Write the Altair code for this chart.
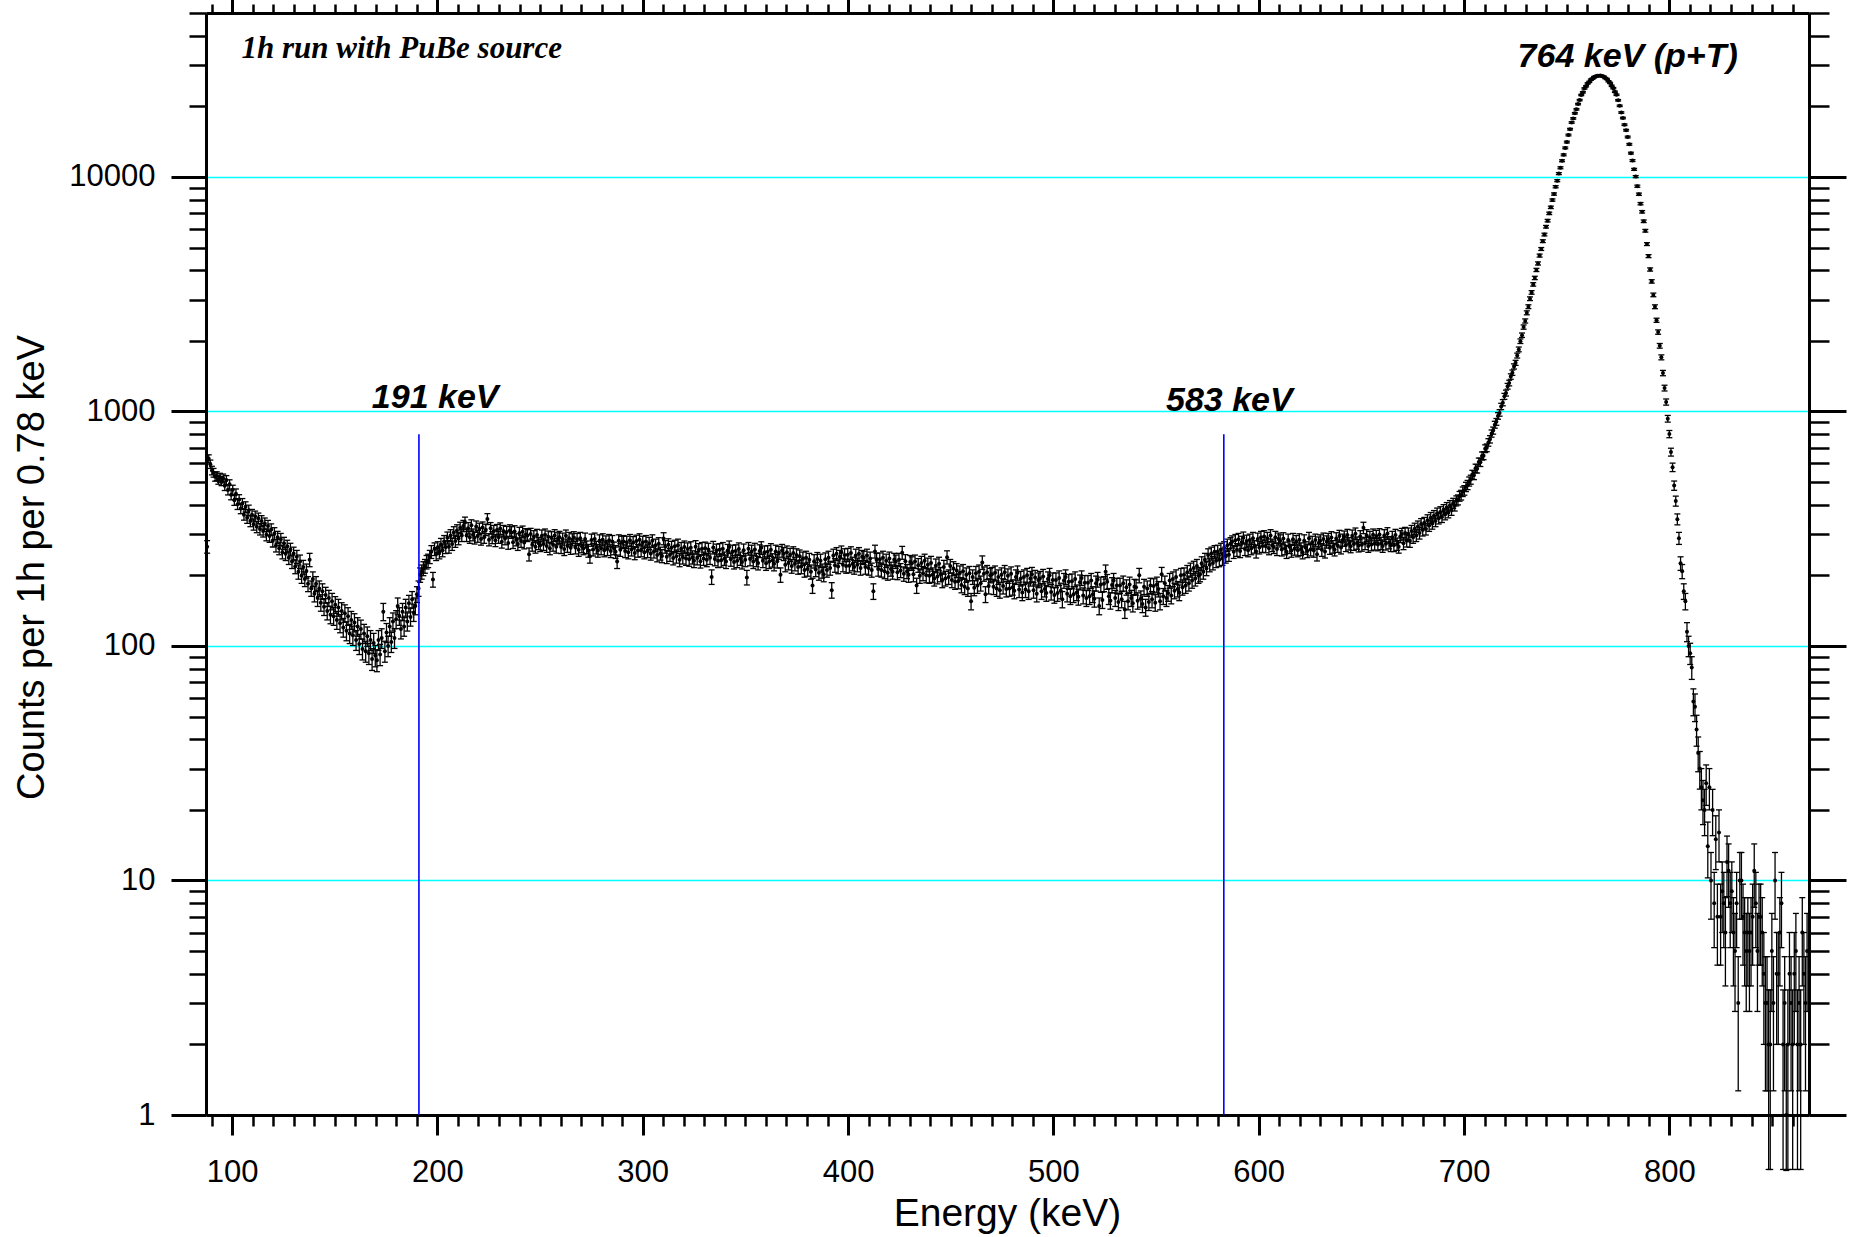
import altair as alt
import pandas as pd

# ---------------- data (counts per 0.78 keV channel) ----------------
E0 = 87.85      # centre of first channel (keV)
BIN = 0.78      # channel width (keV)

counts_rise = [
    265, 628, 596, 560, 548, 527, 530, 512, 522, 505,
    518, 482, 510, 462, 489, 441, 463, 418, 446, 402,
    421, 386, 405, 363, 392, 352, 379, 341, 363, 330,
    357, 322, 350, 315, 341, 309, 333, 298, 325, 294,
    314, 281, 302, 268, 291, 261, 285, 251, 274, 247,
    266, 238, 258, 229, 248, 218, 240, 207, 229, 199,
    217, 193, 209, 184, 233, 176, 193, 167, 184, 160,
    176, 153, 171, 147, 165, 141, 160, 136, 155, 134,
    150, 129, 146, 125, 141, 120, 138, 116, 134, 113,
    129, 111, 126, 106, 121, 102, 118, 97, 113, 95,
    110, 93, 106, 88, 103, 91, 87, 106, 92, 108,
    140, 95, 114, 100, 121, 104, 127, 108, 130, 148,
    134, 118, 140, 121, 146, 127, 152, 133, 158, 139,
    148, 166, 176, 201, 207, 214, 219, 228, 231, 240,
    252, 192, 259, 247, 262, 251, 271, 256, 279, 264,
    289, 265, 296, 272, 305, 280, 311, 287, 319, 296,
    325, 336, 296, 318, 291, 327, 298, 289, 323, 294,
    316, 286, 320, 291, 313, 348, 284, 318, 290, 309,
    282, 312, 291, 317, 278, 309, 287, 306, 275, 311,
    305, 277, 308, 284, 272, 303, 280, 307, 276, 299,
    296, 246, 300, 270, 293, 265, 297, 274, 269, 295,
    272, 298, 267, 292, 261, 290, 270, 296, 265, 287,
    291, 264, 286, 259, 295, 267, 288, 262, 284, 290,
    263, 285, 257, 288, 266, 261, 286, 264, 255, 241,
    283, 258, 286, 263, 255, 281, 261, 284, 256, 278,
    259, 282, 254, 279, 261, 252, 229, 281, 257, 277,
    279, 254, 277, 251, 282, 258, 276, 249, 280, 255,
    284, 256, 277, 251, 279, 254, 274, 248, 281, 253,
]

counts_plateau = [
    269, 244, 273, 248, 242, 287, 265, 240, 270, 245,
    263, 237, 266, 241, 269, 233, 260, 239, 264, 236,
    259, 234, 262, 239, 231, 265, 237, 257, 230, 260,
    236, 261, 233, 258, 238, 197, 263, 235, 256, 231,
    257, 232, 260, 236, 229, 255, 264, 234, 253, 228,
    254, 231, 259, 236, 228, 256, 233, 196, 260, 235,
    253, 229, 258, 233, 226, 254, 262, 231, 251, 225,
    252, 229, 257, 232, 224, 253, 230, 250, 201, 255,
    247, 222, 251, 226, 245, 219, 249, 224, 244, 217,
    241, 218, 236, 211, 238, 213, 233, 207, 181, 230,
    212, 235, 205, 231, 209, 202, 234, 211, 238, 215,
    173, 243, 221, 247, 218, 240, 251, 222, 244, 219,
    245, 220, 249, 224, 217, 243, 222, 247, 215, 240,
    238, 217, 243, 215, 236, 211, 171, 253, 233, 213,
    234, 211, 238, 208, 231, 205, 236, 213, 207, 233,
    229, 206, 233, 210, 250, 203, 230, 208, 201, 228,
    225, 202, 229, 181, 221, 199, 226, 204, 231, 200,
    222, 199, 226, 201, 194, 220, 198, 224, 202, 191,
    217, 194, 239, 197, 219, 191, 214, 188, 210, 189,
    205, 182, 208, 179, 201, 176, 204, 155, 197, 177,
    204, 181, 207, 185, 227, 203, 166, 206, 180, 200,
    202, 179, 205, 176, 197, 173, 201, 180, 206, 175,
    199, 176, 203, 178, 172, 197, 205, 174, 194, 169,
    197, 174, 200, 171, 194, 202, 173, 196, 167, 191,
    194, 171, 198, 175, 168, 193, 200, 170, 191, 165,
    191, 168, 195, 172, 158, 190, 197, 167, 188, 163,
    189, 166, 193, 169, 162, 187, 195, 164, 186, 160,
    186, 163, 190, 166, 159, 185, 192, 148, 183, 157,
    184, 207, 188, 163, 156, 182, 190, 160, 181, 154,
    181, 158, 185, 143, 178, 155, 183, 160, 152, 179,
    178, 156, 200, 159, 151, 179, 146, 176, 154, 181,
    158, 180, 153, 183, 175, 155, 202, 163, 185, 160,
    168, 190, 164, 193, 172, 197, 175, 169, 200, 178,
    201, 181, 206, 185, 211, 190, 215, 194, 219, 199,
    202, 225, 207, 233, 214, 244, 222, 248, 226, 252,
    231, 253, 233, 258, 236, 262, 241, 269, 245, 273,
    278, 252, 282, 257, 285, 254, 277, 289, 259, 280,
    256, 283, 261, 288, 265, 253, 286, 263, 291, 267,
    293, 266, 288, 261, 296, 269, 264, 291, 259, 286,
    281, 258, 287, 261, 252, 283, 264, 255, 285, 260,
    279, 256, 284, 259, 251, 281, 262, 254, 288, 258,
    277, 255, 283, 246, 275, 281, 257, 286, 253, 278,
    285, 262, 290, 265, 258, 287, 267, 294, 263, 283,
    292, 269, 297, 273, 266, 295, 272, 301, 275, 268,
    293, 270, 319, 274, 296, 267, 291, 271, 298, 273,
    294, 271, 299, 274, 267, 296, 273, 302, 276, 269,
    291, 269, 297, 272, 265, 293, 300, 274, 303, 281,
    301, 280, 309, 291, 316, 296, 323, 303, 331, 312,
    335, 315, 344, 326, 352, 333, 359, 341, 368, 350,
    373, 355, 381, 364, 389, 371, 397, 380, 406, 396,
    416, 420, 435, 440, 455, 461, 477, 486, 503, 512,
    538, 535, 572, 570, 608, 607, 646, 648, 694, 700,
]

counts_peak = [
    738, 761, 805, 829, 878, 903, 957, 986, 1051, 1090,
    1160, 1198, 1281, 1322, 1409, 1463, 1556, 1612, 1731, 1839,
    1993, 2114, 2290, 2431, 2634, 2797, 3025, 3218, 3481, 3709,
    4012, 4276, 4620, 4928, 5321, 5679, 6131, 6510, 6992, 7418,
    7968, 8455, 9080, 9641, 10330, 10940, 11720, 12420, 13300, 14080,
    15090, 15980, 17060, 17760, 18680, 19430, 20440, 21260, 22350, 22950,
    23850, 24360, 25050, 25420, 25990, 26240, 26650, 26770, 27010, 26990,
    27080, 26880, 26790, 26400, 26140, 25580, 25170, 24460, 23900, 23070,
    22400, 21220, 20100, 18820, 17830, 16690, 15820, 14800, 13770, 12630,
    11740, 10770, 10030, 9130, 8440, 7690, 7100, 6470, 5895, 5170,
    4595, 4030, 3585, 3140, 2795, 2448, 2180, 1905, 1701, 1458,
    1258, 1097, 931, 801, 671, 578, 483, 415, 347, 288,
    225, 208, 171, 155, 115, 100, 93, 81, 58, 55,
    44, 35, 30, 25, 22, 20, 26, 14, 25, 10,
]

counts_tail = [
    20, 8, 15, 7, 16, 7, 9, 8, 6, 12,
    11, 8, 9, 6, 5, 8, 3, 10, 10, 7,
    6, 5, 6, 5, 6, 7, 11, 8, 5, 7,
    7, 6, 4, 3, 3, 2, 2, 5, 3, 10,
    4, 4, 6, 8, 2, 3, 1, 2, 4, 3,
    2, 4, 5, 2, 3, 2, 6, 4, 3, 5,
]

x_major_ticks = [100, 200, 300, 400, 500, 600, 700, 800]
x_minor_ticks = list(range(90, 861, 10))
y_major_ticks = [1, 10, 100, 1000, 10000]
y_minor_ticks = [m * d for d in (1, 10, 100, 1000) for m in range(2, 10)] + [20000, 30000, 40000, 50000]

line_energies = [191, 583]
line_bottom = [1, 1]
line_top = [800, 800]

label_texts = ["191 keV", "583 keV", "764 keV (p+T)"]
label_energies = [198.9, 585.7, 779.7]
label_counts = [1030, 1000, 29500]

note_text = ["1h run with PuBe source"]
note_energy = [104.6]
note_count = [32000]

# ---------------- build tables ----------------
counts = counts_rise + counts_plateau + counts_peak + counts_tail
energy = [round(E0 + BIN * i, 3) for i in range(len(counts))]
df = pd.DataFrame({"E": energy, "N": counts})
df = df[df["N"] > 0]

lines_df = pd.DataFrame({"E": line_energies, "y1": line_bottom, "y2": line_top})
labels_df = pd.DataFrame({"E": label_energies, "y": label_counts, "t": label_texts})
note_df = pd.DataFrame({"E": note_energy, "y": note_count, "t": note_text})

FONT = "Liberation Sans"
xs = alt.Scale(domain=[87.3, 868], nice=False, zero=False)
ys = alt.Scale(type="log", domain=[1, 50000], nice=False)

common = dict(tickColor="black", domainColor="black", labelColor="black", titleColor="black",
              labelFlush=False, labelOverlap=False)

x_bottom_major = alt.Axis(orient="bottom", values=x_major_ticks, format="d", tickSize=20, tickWidth=3,
                          domainWidth=3, labelFont=FONT, labelFontSize=31, labelPadding=22,
                          title="Energy (keV)", titleFont=FONT, titleFontSize=39,
                          titleFontWeight="normal", titleX=801, titleY=110, titleAlign="center",
                          titleBaseline="alphabetic", grid=False, **common)
x_bottom_minor = alt.Axis(orient="bottom", values=x_minor_ticks, tickSize=11, tickWidth=2.5,
                          labels=False, domain=False, title="", grid=False, **common)
x_top_major = alt.Axis(orient="top", values=x_major_ticks, tickSize=14, tickWidth=3, domainWidth=3,
                       labels=False, title="", grid=False, **common)
x_top_minor = alt.Axis(orient="top", values=x_minor_ticks, tickSize=9, tickWidth=2.5,
                       labels=False, domain=False, title="", grid=False, **common)

y_left_major = alt.Axis(orient="left", values=y_major_ticks, format="d", tickSize=35, tickWidth=3,
                        domainWidth=3, labelFont=FONT, labelFontSize=31, labelPadding=16,
                        title="Counts per 1h per 0.78 keV", titleFont=FONT, titleFontSize=38,
                        titleFontWeight="normal", titleAngle=270, titleX=-163, titleY=554,
                        titleAlign="center", titleBaseline="alphabetic",
                        grid=True, gridColor="#00ffff", gridWidth=1.3, **common)
y_left_minor = alt.Axis(orient="left", values=y_minor_ticks, tickSize=17, tickWidth=2.5,
                        labels=False, domain=False, title="", grid=False, **common)
y_right_major = alt.Axis(orient="right", values=y_major_ticks, tickSize=37, tickWidth=3, domainWidth=3,
                         labels=False, title="", grid=False, **common)
y_right_minor = alt.Axis(orient="right", values=y_minor_ticks, tickSize=20, tickWidth=2.5,
                         labels=False, domain=False, title="", grid=False, **common)

base = alt.Chart(df).transform_calculate(
    hi="datum.N + sqrt(datum.N)",
    lo="max(datum.N - sqrt(datum.N), 0.58)",
)

bars = base.mark_rule(color="black", strokeWidth=1.3).encode(
    x=alt.X("E:Q", scale=xs, axis=x_bottom_major),
    y=alt.Y("lo:Q", scale=ys, axis=y_left_major),
    y2="hi:Q",
)
caps_hi = base.mark_tick(orient="horizontal", size=6, thickness=1.3, color="black", opacity=1).encode(
    x=alt.X("E:Q", scale=xs, axis=x_bottom_minor),
    y=alt.Y("hi:Q", scale=ys, axis=y_left_minor),
)
caps_lo = base.mark_tick(orient="horizontal", size=6, thickness=1.3, color="black", opacity=1).encode(
    x=alt.X("E:Q", scale=xs, axis=x_top_major),
    y=alt.Y("lo:Q", scale=ys, axis=y_right_major),
)
points = base.mark_circle(size=16, color="black", opacity=1).encode(
    x=alt.X("E:Q", scale=xs, axis=x_top_minor),
    y=alt.Y("N:Q", scale=ys, axis=y_right_minor),
)

vlines = alt.Chart(lines_df).mark_rule(color="#0000ff", strokeWidth=1.6).encode(
    x=alt.X("E:Q", scale=xs, axis=None),
    y=alt.Y("y1:Q", scale=ys, axis=None),
    y2="y2:Q",
)

labels = alt.Chart(labels_df).mark_text(
    font=FONT, fontSize=34, fontStyle="italic", fontWeight="bold", color="black",
    align="center", baseline="alphabetic",
).encode(
    x=alt.X("E:Q", scale=xs, axis=None),
    y=alt.Y("y:Q", scale=ys, axis=None),
    text="t:N",
)

note = alt.Chart(note_df).mark_text(
    font="Liberation Serif", fontSize=31, fontStyle="italic", fontWeight="bold", color="black",
    align="left", baseline="alphabetic",
).encode(
    x=alt.X("E:Q", scale=xs, axis=None),
    y=alt.Y("y:Q", scale=ys, axis=None),
    text="t:N",
)

chart = alt.layer(bars, caps_hi, caps_lo, points, vlines, labels, note).resolve_axis(
    x="independent", y="independent"
).properties(
    width=1603,
    height=1102,
    autosize="none",
    padding={"left": 206, "top": 13, "right": 44, "bottom": 122},
    background="white",
).configure_view(stroke=None)

chart.save("out.html", embed_options={"renderer": "svg", "actions": False})
